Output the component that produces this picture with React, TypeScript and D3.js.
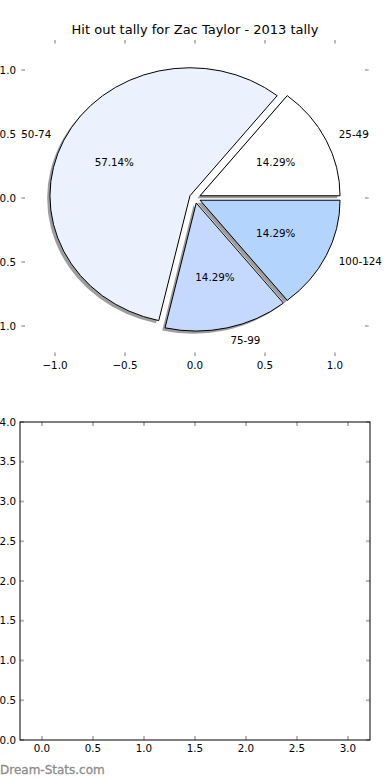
// @ts-nocheck
import React from 'react';
import * as d3 from 'd3';

// data
const categories = ["25-49", "50-74", "75-99", "100-124"];
const counts = [1, 4, 1, 1];
const explode = [0.04, 0.04, 0.04, 0.04];
const pieTicks = [-1.0, -0.5, 0.0, 0.5, 1.0];
const bottomXTicks = [0.0, 0.5, 1.0, 1.5, 2.0, 2.5, 3.0];
const bottomYTicks = [0.0, 0.5, 1.0, 1.5, 2.0, 2.5, 3.0, 3.5, 4.0];
const title = "Hit out tally for Zac Taylor - 2013 tally";

const sliceColors = ["#ffffff", "#ebf1fd", "#c5d8fd", "#b3d5fd"];
const tickGray = "#bbbbbb";
const font = "'DejaVu Sans', sans-serif";

const minus = (v) => (v < 0 ? "\u2212" : "") + Math.abs(v).toFixed(1);

export default function App() {
    const W = 390, H = 780;

    // top pie axes
    const x = d3.scaleLinear().domain([-1.24, 1.24]).range([21.4, 368.6]);
    const y = d3.scaleLinear().domain([-1.234, 1.234]).range([356, 40]);
    const rx = x(1) - x(0), ry = y(0) - y(1);

    // counterclockwise from 3 o'clock like matplotlib
    const pie = d3.pie().sort(null).startAngle(Math.PI / 2).endAngle(Math.PI / 2 - 2 * Math.PI);
    const arcs = pie(counts);
    const arc = d3.arc().innerRadius(0).outerRadius(1);
    const total = d3.sum(counts);

    const slices = arcs.map((a, i) => {
        const mid = (a.startAngle + a.endAngle) / 2;
        const dx = Math.sin(mid), dy = Math.cos(mid); // data-space direction
        const ox = explode[i] * dx, oy = explode[i] * dy;
        return { a, i, dx, dy, ox, oy };
    });

    // bottom empty axes
    const bx = d3.scaleLinear().domain([-0.2157, 3.2157]).range([20, 370]);
    const by = d3.scaleLinear().domain([0, 4]).range([740, 422]);

    return (
        <svg width={W} height={H} style={{ position: 'absolute', left: 0, top: 0, background: '#fff' }}>
            <text x={195} y={34} textAnchor="middle" fontFamily={font} fontSize={13} fill="#000">{title}</text>

            {/* pie ticks */}
            {pieTicks.map(t => (
                <g key={"px" + t}>
                    <line x1={x(t)} x2={x(t)} y1={40} y2={43.5} stroke={tickGray} strokeWidth={2} />
                    <line x1={x(t)} x2={x(t)} y1={356} y2={352.5} stroke={tickGray} strokeWidth={2} />
                    <text x={x(t)} y={369} textAnchor="middle" fontFamily={font} fontSize={10.3} fill="#000">{minus(t)}</text>
                </g>
            ))}
            {pieTicks.map(t => (
                <g key={"py" + t}>
                    <line x1={21.4} x2={25} y1={y(t)} y2={y(t)} stroke={tickGray} strokeWidth={2} />
                    <line x1={368.6} x2={365} y1={y(t)} y2={y(t)} stroke={tickGray} strokeWidth={2} />
                    <text x={16} y={y(t)} dy="0.35em" textAnchor="end" fontFamily={font} fontSize={10.3} fill="#000">{minus(t)}</text>
                </g>
            ))}

            {/* shadows */}
            {slices.map(s => (
                <path key={"sh" + s.i} d={arc(s.a)}
                    transform={`translate(${x(s.ox - 0.02)},${y(s.oy - 0.02)}) scale(${rx},${ry})`}
                    fill="#4d4d4d" opacity={0.55} />
            ))}
            {/* wedges */}
            {slices.map(s => (
                <path key={"w" + s.i} d={arc(s.a)}
                    transform={`translate(${x(s.ox)},${y(s.oy)}) scale(${rx},${ry})`}
                    fill={sliceColors[s.i]} stroke="#000" strokeWidth={1} vectorEffect="non-scaling-stroke"
                    strokeLinejoin="miter" />
            ))}
            {/* labels */}
            {slices.map(s => (
                <g key={"l" + s.i}>
                    <text x={x(s.ox + 1.1 * s.dx)} y={y(s.oy + 1.1 * s.dy)} dy="0.35em"
                        textAnchor={s.dx > 0 ? "start" : "end"} fontFamily={font} fontSize={10.3} fill="#000">
                        {categories[s.i]}
                    </text>
                    <text x={x(s.ox + 0.6 * s.dx)} y={y(s.oy + 0.6 * s.dy)} dy="0.35em"
                        textAnchor="middle" fontFamily={font} fontSize={10.3} fill="#000">
                        {(counts[s.i] / total * 100).toFixed(2) + "%"}
                    </text>
                </g>
            ))}

            {/* bottom axes */}
            {bottomXTicks.map(t => (
                <g key={"bx" + t}>
                    <line x1={bx(t)} x2={bx(t)} y1={by(4)} y2={by(4) + 4} stroke={tickGray} strokeWidth={2} />
                    <line x1={bx(t)} x2={bx(t)} y1={by(0)} y2={by(0) - 4} stroke={tickGray} strokeWidth={2} />
                    <text x={bx(t)} y={748} dy="0.35em" textAnchor="middle" fontFamily={font} fontSize={10.3} fill="#000">{minus(t)}</text>
                </g>
            ))}
            {bottomYTicks.map(t => (
                <g key={"by" + t}>
                    <line x1={20} x2={24} y1={by(t)} y2={by(t)} stroke={tickGray} strokeWidth={2} />
                    <line x1={370} x2={366} y1={by(t)} y2={by(t)} stroke={tickGray} strokeWidth={2} />
                    <text x={16} y={by(t)} dy="0.35em" textAnchor="end" fontFamily={font} fontSize={10.3} fill="#000">{minus(t)}</text>
                </g>
            ))}
            <rect x={20} y={by(4)} width={350} height={by(0) - by(4)} fill="none" stroke="#000" strokeWidth={1} />

            <text x={0} y={774} fontFamily={font} fontSize={12} fill="#8c8c8c" stroke="#8c8c8c" strokeWidth={0.3}>Dream-Stats.com</text>
        </svg>
    );
}
